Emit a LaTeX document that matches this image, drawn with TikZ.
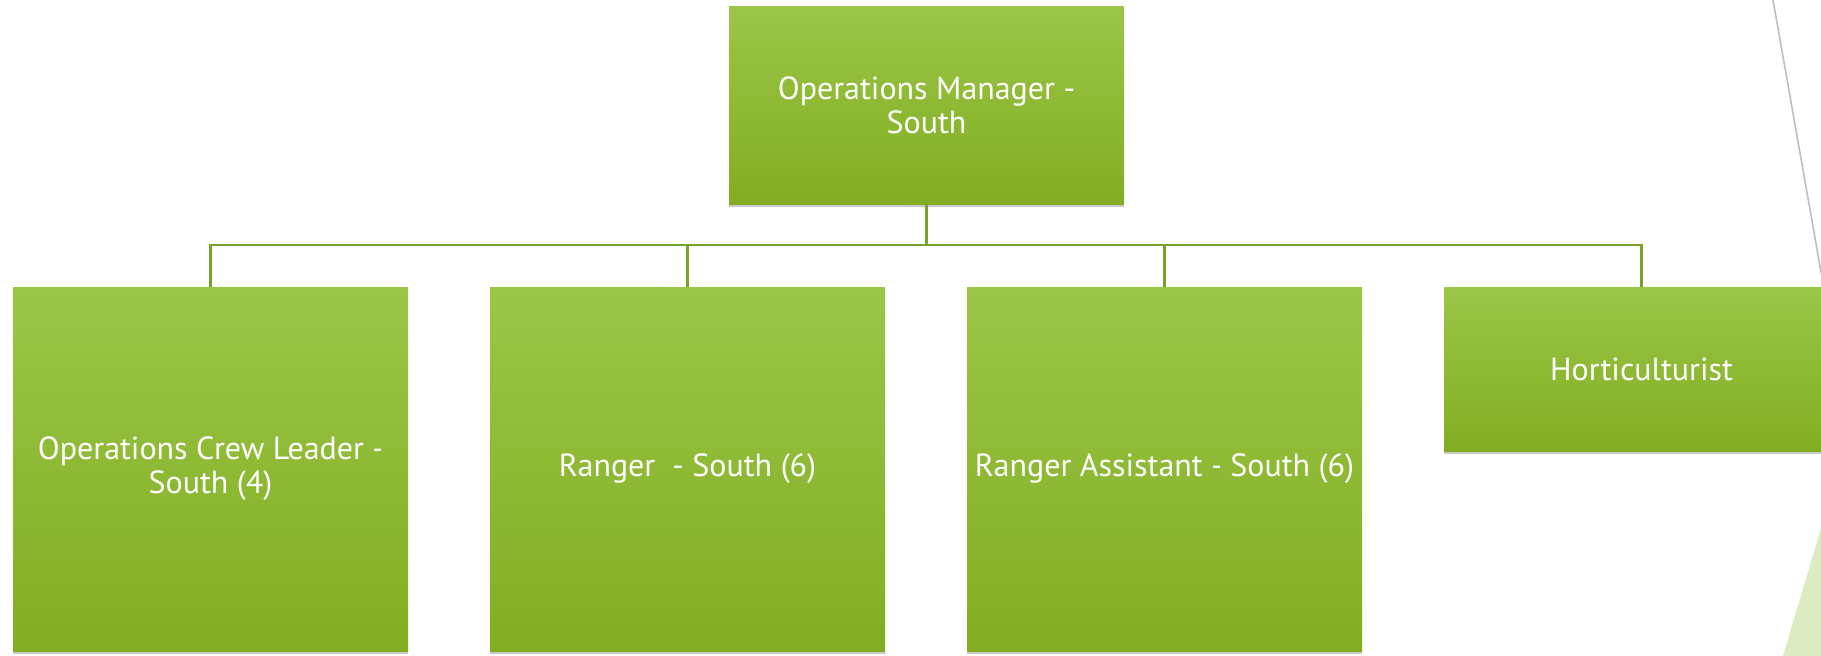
\documentclass[tikz,border=0pt]{standalone}
\usepackage{fontspec}
\setmainfont{PT Sans}
\usetikzlibrary{shadows}
\definecolor{boxtop}{RGB}{155,198,72}
\definecolor{boxbot}{RGB}{130,173,34}
\definecolor{conn}{RGB}{120,163,40}
\definecolor{accent}{RGB}{221,235,194}
\definecolor{edgegray}{RGB}{190,190,190}
\newcommand{\shortdash}{\scalebox{0.5}[1]{–}}
\tikzset{
  orgbox/.style={rectangle, draw=none, top color=boxtop, bottom color=boxbot,
    text=white, align=center, inner sep=0pt,
    font=\fontsize{32}{34}\selectfont,
    drop shadow={shadow xshift=0pt, shadow yshift=-3pt, opacity=0.35, fill=black!60}},
  link/.style={draw=conn, line width=2.4pt},
}
\begin{document}
\begin{tikzpicture}[x=1pt, y=-1pt]
\useasboundingbox (0,0) rectangle (1821,656);
\fill[white] (0,0) rectangle (1821,656);
\clip (0,0) rectangle (1821,656);
% decorative right-edge elements
\draw[edgegray, line width=1.6pt] (1773,0) -- (1827,306);
\fill[accent] (1821,528) -- (1783,656) -- (1830,656) -- cycle;
% nodes
\node[orgbox, minimum width=395pt, minimum height=198pt] (top) at (926.5,105) {Operations Manager -\\South};
\coordinate (bus) at (926.5,245);
\node[orgbox, minimum width=395pt, minimum height=364pt] (b1) at (210.5,469) {Operations Crew Leader \shortdash\\South (4)};
\node[orgbox, minimum width=395pt, minimum height=364pt] (b2) at (687.5,469) {Ranger\ \ - South (6)};
\node[orgbox, minimum width=395pt, minimum height=364pt] (b3) at (1164.5,469) {Ranger Assistant \shortdash\ South (6)};
\node[orgbox, minimum width=395pt, minimum height=164pt] (b4) at (1641.5,369) {Horticulturist};
% connectors
\draw[link] (top.south) -- (bus);
\draw[link] (b1.north) |- (bus);
\draw[link] (b2.north) |- (bus);
\draw[link] (b3.north) |- (bus);
\draw[link] (b4.north) |- (bus);
\end{tikzpicture}
\end{document}
